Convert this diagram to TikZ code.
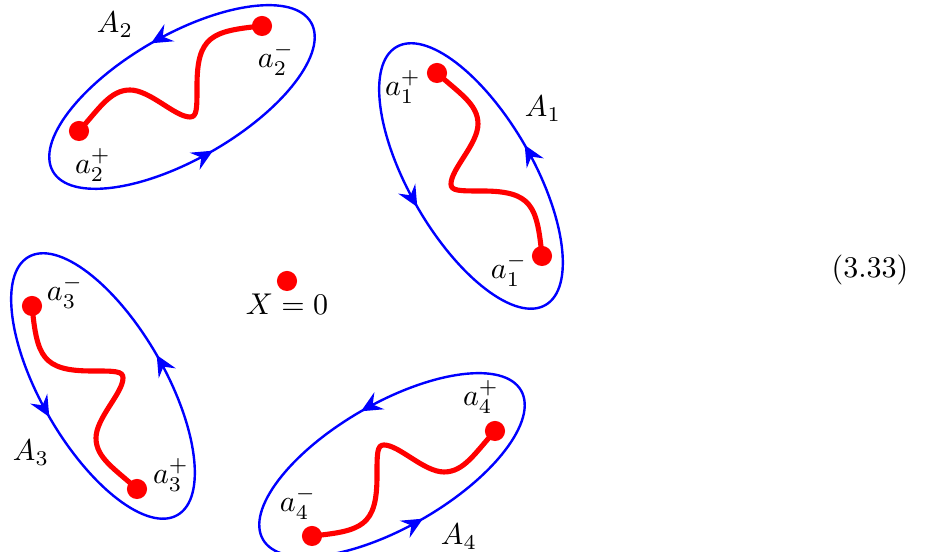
\documentclass[tikz,border=0pt]{standalone}
\usepackage{amsmath, amssymb}
\usepackage{xcolor}
\usepackage{tikz}
\usetikzlibrary{arrows.meta, decorations.markings}

\tikzset{
  dot/.style={circle, fill=red, inner sep=0pt, minimum size=6.7pt},
  cut/.style={red, line width=1.7pt},
  tag/.style={inner sep=0.5pt},
  acycle/.style={blue, thick, postaction={decorate},
    decoration={markings,
      mark=at position 0.25 with {\arrow{Stealth[length=7pt,width=6.5pt,inset=2.5pt]}},
      mark=at position 0.75 with {\arrow{Stealth[length=7pt,width=6.5pt,inset=2.5pt]}}}},
}

\begin{document}
\begin{tikzpicture}[x=1.17cm, y=1.17cm]
  \useasboundingbox (0,0) rectangle (9.29,5.52);
  \node[dot] (X) at (2.87,2.71) {};
  \node[tag] (Xl) at (2.87,2.48) {\(X=0\)};
  \node (eq) at (8.70,2.82) {(3.33)};
  % one cycle with its cut, turned four times round X=0
  \foreach \r/\n in {0/2, -90/1, -180/4, -270/3} {
    \begin{scope}[shift={(2.87,2.71)}, rotate=\r]
      \coordinate (c\n) at (-1.05,1.84);
      \draw[acycle] (c\n) ellipse[x radius=1.49, y radius=0.62, rotate=30];
      \node[dot] (p\n) at (-2.08,1.50) {};
      \node[dot] (m\n) at (-0.25,2.55) {};
      \draw[cut] (p\n.center) .. controls (-1.88,1.72) and (-1.77,1.91) .. (-1.57,1.91)
        .. controls (-1.37,1.91) and (-1.12,1.64) .. (-0.97,1.64)
        .. controls (-0.90,1.64) and (-0.90,1.72) .. (-0.90,1.95)
        .. controls (-0.90,2.45) and (-0.75,2.50) .. (m\n.center);
      \node[tag] (lp\n) at (-1.94,1.16) {\(a_{\n}^{+}\)};
      \node[tag] (lm\n) at (-0.11,2.22) {\(a_{\n}^{-}\)};
      \node[tag] (A\n) at (-1.72,2.56) {\(A_{\n}\)};
    \end{scope}
  }
\end{tikzpicture}
\end{document}
